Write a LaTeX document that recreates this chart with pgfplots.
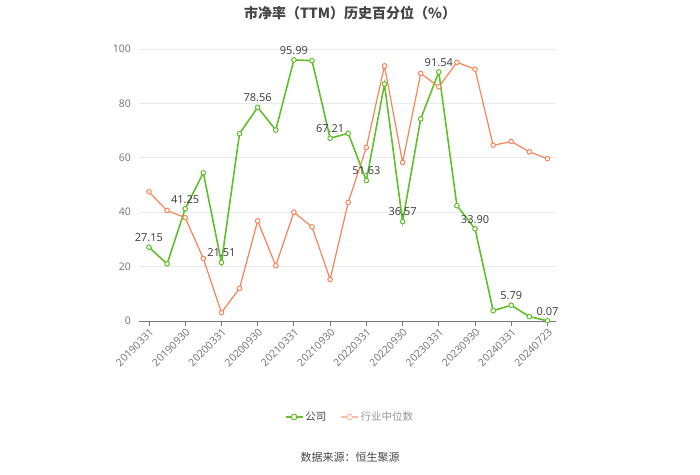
\documentclass[border=0pt]{standalone}
\usepackage{fontspec}
\setmainfont{Noto Sans}
\newfontfamily\cjk{Noto Sans CJK SC}
\usepackage{pgfplots}
\pgfplotsset{compat=1.18}
\definecolor{cgreen}{RGB}{98,190,45}
\definecolor{corange}{RGB}{247,133,92}
\definecolor{tickgray}{RGB}{120,122,130}
\definecolor{gridgray}{RGB}{232,234,238}
\definecolor{labelgray}{RGB}{70,70,70}

\begin{document}
\begin{tikzpicture}[x=1pt,y=1pt]
\path[use as bounding box] (0pt,0pt) rectangle (700pt,474pt);
\begin{axis}[at={(139pt,153pt)},anchor=south west,scale only axis,
  width=417pt,height=272pt,
  xmin=-0.55,xmax=22.47,ymin=0,ymax=100,
  axis lines=left,
  y axis line style={draw=none},
  ytick={0,20,40,60,80,100},
  ymajorgrids=true,grid style={gridgray,line width=0.8pt},
  xtick={0,2,...,22},
  xticklabels={20190331,20190930,20200331,20200930,20210331,20210930,20220331,20220930,20230331,20230930,20240331,20240723},
  xticklabel style={rotate=45,anchor=north east,inner sep=1pt,font=\fontsize{10.5}{12}\selectfont,text=tickgray},
  yticklabel style={font=\fontsize{10.5}{12}\selectfont,text=tickgray,xshift=-2pt},
  x axis line style={tickgray,line width=0.8pt,-},
  xtick align=outside,major tick length=5pt,
  xtick style={tickgray,line width=0.8pt},
  ytick style={draw=none},
  /pgf/number format/assume math mode=true,
  clip=false,
  legend style={at={(0.506,-0.353)},anchor=center,draw=none,legend columns=2,
    font=\fontsize{10.5}{12}\selectfont,
    /tikz/every even column/.append style={column sep=12pt}},
  legend cell align=left,
]
% industry median
\addplot[forget plot,corange,line width=1.2pt,mark=*,mark size=2.3pt,mark options={fill=white,line width=1pt}] coordinates {
(0,47.5)(1,40.6)(2,38.0)(3,23.0)(4,3.1)(5,12.0)(6,36.8)(7,20.3)(8,40.0)(9,34.6)(10,15.3)(11,43.6)
(12,63.8)(13,93.8)(14,58.3)(15,91.0)(16,86.1)(17,95.1)(18,92.6)(19,64.6)(20,66.0)(21,62.2)(22,59.7)};
% company
\addplot[forget plot,cgreen,line width=1.6pt,mark=*,mark size=2.3pt,mark options={fill=white,line width=1pt}] coordinates {
(0,27.15)(1,21.0)(2,41.25)(3,54.5)(4,21.51)(5,68.9)(6,78.56)(7,70.2)(8,95.99)(9,95.7)(10,67.21)(11,69.0)
(12,51.63)(13,87.1)(14,36.57)(15,74.3)(16,91.54)(17,42.4)(18,33.90)(19,3.8)(20,5.79)(21,1.6)(22,0.07)};
% value labels
\addplot[forget plot,draw=none,mark=none,nodes near coords={\pgfmathprintnumber[fixed,fixed zerofill,precision=2]{\pgfplotspointmeta}},
  point meta=explicit,
  every node near coord/.append style={font=\fontsize{11}{13}\selectfont,text=labelgray,anchor=south,yshift=2pt}]
  coordinates {(0,27.15)[27.15](2,41.25)[41.25](4,21.51)[21.51](6,78.56)[78.56](8,95.99)[95.99](10,67.21)[67.21]
  (12,51.63)[51.63](14,36.57)[36.57](16,91.54)[91.54](18,33.90)[33.90](20,5.79)[5.79](22,0.07)[0.07]};
\addlegendimage{cgreen,line width=1.6pt,mark=*,mark size=2.8pt,mark options={fill=white,line width=1pt}}
\addlegendentry{\cjk\textcolor{labelgray}{公司}}
\addlegendimage{corange!55,line width=1.2pt,mark=*,mark size=2.8pt,mark options={fill=white,line width=1pt}}
\addlegendentry{\cjk\textcolor{tickgray!80}{行业中位数}}
\end{axis}
\node[font=\cjk\bfseries\fontsize{14}{16}\selectfont,text=labelgray] at (350pt,461pt) {市净率（TTM）历史百分位（\%）};
\node[font=\cjk\fontsize{11}{13}\selectfont,text=labelgray] at (350pt,17pt) {数据来源：恒生聚源};
\end{tikzpicture}
\end{document}
